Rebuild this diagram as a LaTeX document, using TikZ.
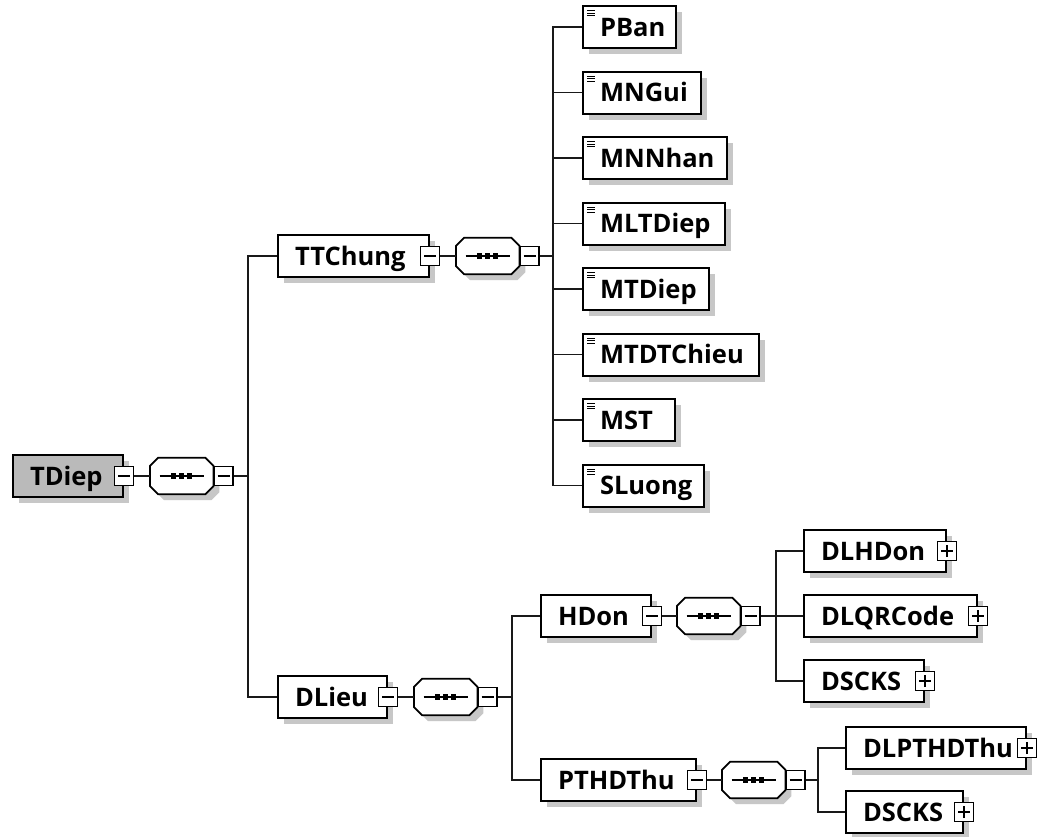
\documentclass[tikz,border=0pt]{standalone}
\usepackage{fontspec}
\setmainfont{Open Sans}
\usetikzlibrary{shadows}
\newcommand\elfont{\bfseries\fontsize{25.5}{30}\selectfont}
\tikzset{
  x=1pt, y=-1pt,
  shade/.style={general shadow={fill=black!22, shadow xshift=6pt, shadow yshift=-6pt}},
  elem/.style={draw, line width=2pt, fill=white, anchor=west, minimum height=42pt,
    inner xsep=17pt, inner ysep=0pt, text height=18.2pt, text depth=0pt, align=left,
    font=\elfont, shade},
  root/.style={elem, fill=black!27},
  leaf/.style={elem, path picture={
    \foreach \d in {4.5,7,9.5}{
      \draw[line width=1pt] ([xshift=4pt,yshift=-\d pt]path picture bounding box.north west) -- ++(8,0);}}},
  sq/.style={draw, line width=1.5pt, fill=white, minimum size=19pt, inner sep=0pt},
  minus/.style={sq, path picture={\draw[line width=1.2pt] ([xshift=-6pt]path picture bounding box.center) -- ++(12,0);}},
  plus/.style={sq, path picture={\draw[line width=1.2pt] ([xshift=-6pt]path picture bounding box.center) -- ++(12,0);
     \draw[line width=1.2pt] ([yshift=-6pt]path picture bounding box.center) -- ([yshift=6pt]path picture bounding box.center);}},
  seq/.style={rectangle, draw=none, minimum width=63pt, minimum height=36pt, inner sep=0pt, anchor=west},
  octline/.style={draw, line width=1.8pt, fill=white, shade},
  conn/.style={line width=1.9pt, draw=black!90},
}
\newcommand\octa[1]{%
  \path[octline] ([xshift=8pt]#1.north west) -- ([xshift=-8pt]#1.north east)
    -- ([yshift=-8pt]#1.north east) -- ([yshift=8pt]#1.south east)
    -- ([xshift=-8pt]#1.south east) -- ([xshift=8pt]#1.south west)
    -- ([yshift=8pt]#1.south west) -- ([yshift=-8pt]#1.north west) -- cycle;
  \draw[line width=1.5pt] ([xshift=-22pt]#1.center) -- ([xshift=22pt]#1.center);
  \foreach \d in {-8,0,8}{\fill ([xshift=\d pt]#1.center) +(-2.6,-2.6) rectangle +(2.6,2.6);}%
}
\begin{document}
\begin{tikzpicture}
\useasboundingbox (0,0) rectangle (1055,836);
\fill[white] (0,0) rectangle (1055,836);

% root
\node[root, text width=76pt] (tdiep) at (12,476) {TDiep};
\node[seq] (tdiep-s) at (150,476) {};
\octa{tdiep-s}
\node[minus, anchor=west] (tdiep-sm) at (tdiep-s.east) {};
\coordinate (tdiep-j) at (248,476);

% level 1
\node[elem, text width=117pt] (ttchung) at (277,256) {TTChung};
\node[seq] (ttchung-s) at (456,256) {};
\octa{ttchung-s}
\node[minus, anchor=west] (ttchung-sm) at (ttchung-s.east) {};
\coordinate (ttchung-j) at (553,256);

\node[elem, text width=75pt] (dlieu) at (277,697) {DLieu};
\node[seq] (dlieu-s) at (414,697) {};
\octa{dlieu-s}
\node[minus, anchor=west] (dlieu-sm) at (dlieu-s.east) {};
\coordinate (dlieu-j) at (512,697);

% TTChung children
\node[leaf, text width=59pt] (pban) at (582,27) {PBan};
\node[leaf, text width=84pt] (mngui) at (582,92.5) {MNGui};
\node[leaf, text width=110pt] (mnnhan) at (582,158) {MNNhan};
\node[leaf, text width=108pt] (mltdiep) at (582,223.5) {MLTDiep};
\node[leaf, text width=92pt] (mtdiep) at (582,289) {MTDiep};
\node[leaf, text width=142pt] (mtdtchieu) at (582,354.5) {MTDTChieu};
\node[leaf, text width=58pt] (mst) at (582,420) {MST};
\node[leaf, text width=87pt] (sluong) at (582,485.5) {SLuong};

% DLieu children
\node[elem, text width=76pt] (hdon) at (540,616) {HDon};
\node[seq] (hdon-s) at (677,616) {};
\octa{hdon-s}
\node[minus, anchor=west] (hdon-sm) at (hdon-s.east) {};
\coordinate (hdon-j) at (776,616);

\node[elem, text width=121pt] (pthdthu) at (540,780) {PTHDThu};
\node[seq] (pthdthu-s) at (722,780) {};
\octa{pthdthu-s}
\node[minus, anchor=west] (pthdthu-sm) at (pthdthu-s.east) {};
\coordinate (pthdthu-j) at (818,780);

% HDon children
\node[elem, text width=108pt] (dlhdon) at (803,551) {DLHDon};
\node[elem, text width=139pt] (dlqrcode) at (803,616) {DLQRCode};
\node[elem, text width=86pt] (dscksa) at (803,681) {DSCKS};

% PTHDThu children
\node[elem, text width=146pt] (dlpthdthu) at (845,748) {DLPTHDThu};
\node[elem, text width=83pt] (dscksb) at (845,812) {DSCKS};

% expand/collapse squares on elements
\node[minus] (tdiep-m) at (tdiep.east) {};
\node[minus] (ttchung-m) at (ttchung.east) {};
\node[minus] (dlieu-m) at (dlieu.east) {};
\node[minus] (hdon-m) at (hdon.east) {};
\node[minus] (pthdthu-m) at (pthdthu.east) {};
\node[plus] (dlhdon-p) at (dlhdon.east) {};
\node[plus] (dlqrcode-p) at (dlqrcode.east) {};
\node[plus] (dscksa-p) at (dscksa.east) {};
\node[plus] (dlpthdthu-p) at (dlpthdthu.east) {};
\node[plus] (dscksb-p) at (dscksb.east) {};

% connectors
\draw[conn] (tdiep-m) -- (tdiep-s);
\draw[conn] (tdiep-sm) -- (tdiep-j);
\draw[conn] (tdiep-j) |- (ttchung.west);
\draw[conn] (tdiep-j) |- (dlieu.west);

\draw[conn] (ttchung-m) -- (ttchung-s);
\draw[conn] (ttchung-sm) -- (ttchung-j);
\foreach \c in {pban,mngui,mnnhan,mltdiep,mtdiep,mtdtchieu,mst,sluong}
  \draw[conn] (ttchung-j) |- (\c.west);

\draw[conn] (dlieu-m) -- (dlieu-s);
\draw[conn] (dlieu-sm) -- (dlieu-j);
\draw[conn] (dlieu-j) |- (hdon.west);
\draw[conn] (dlieu-j) |- (pthdthu.west);

\draw[conn] (hdon-m) -- (hdon-s);
\draw[conn] (hdon-sm) -- (hdon-j);
\foreach \c in {dlhdon,dlqrcode,dscksa}
  \draw[conn] (hdon-j) |- (\c.west);

\draw[conn] (pthdthu-m) -- (pthdthu-s);
\draw[conn] (pthdthu-sm) -- (pthdthu-j);
\foreach \c in {dlpthdthu,dscksb}
  \draw[conn] (pthdthu-j) |- (\c.west);
\end{tikzpicture}
\end{document}
